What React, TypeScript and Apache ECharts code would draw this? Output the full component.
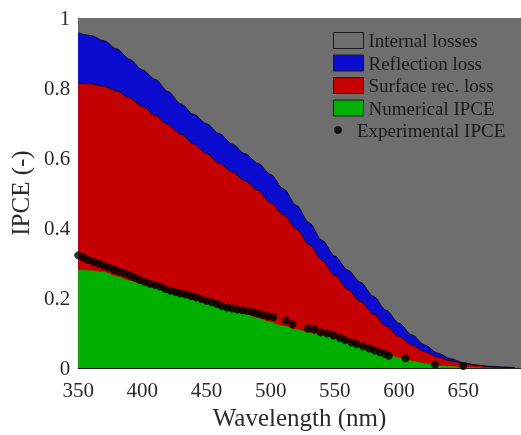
import React, { useEffect, useRef } from "react";
import * as echarts from "echarts";

// Wavelength grid (nm) for the simulated curves
const wavelengths = [
  350, 360, 370, 380, 390, 400, 410, 420, 430, 440, 450, 460, 470, 480, 490,
  500, 510, 520, 530, 540, 550, 560, 570, 580, 590, 600, 610, 620, 630, 640,
  650, 660, 670, 680, 690,
];

// Upper edge of the reflection-loss band (= 1 - internal losses)
const reflectionTop = [
  0.958, 0.95, 0.935, 0.912, 0.882, 0.852, 0.825, 0.79, 0.755, 0.725, 0.698,
  0.67, 0.64, 0.612, 0.585, 0.553, 0.512, 0.465, 0.415, 0.365, 0.32, 0.28,
  0.245, 0.205, 0.165, 0.128, 0.095, 0.066, 0.043, 0.027, 0.016, 0.009, 0.005,
  0.003, 0.002,
];

// Upper edge of the surface-recombination band
const surfaceTop = [
  0.814, 0.812, 0.805, 0.792, 0.772, 0.748, 0.722, 0.695, 0.668, 0.64, 0.613,
  0.585, 0.56, 0.535, 0.508, 0.472, 0.438, 0.398, 0.353, 0.308, 0.265, 0.225,
  0.19, 0.155, 0.12, 0.09, 0.066, 0.047, 0.032, 0.021, 0.013, 0.008, 0.004,
  0.002, 0.001,
];

// Numerical IPCE
const numericalIPCE = [
  0.281, 0.279, 0.275, 0.262, 0.25, 0.24, 0.23, 0.219, 0.207, 0.196, 0.186,
  0.176, 0.166, 0.155, 0.143, 0.132, 0.121, 0.111, 0.102, 0.095, 0.085, 0.073,
  0.061, 0.05, 0.04, 0.03, 0.021, 0.014, 0.008, 0.005, 0.003, 0.002, 0.001,
  0.001, 0.0,
];

// Internal losses fill everything up to unity
const internalRange = [350, 695];
const internalTop = [1, 1];

// Measured IPCE
const expWavelengths = [
  350, 354, 358, 362, 366, 370, 374, 378, 382, 386, 390, 394, 398, 402, 406,
  410, 414, 418, 422, 426, 430, 434, 438, 442, 446, 450, 454, 458, 462, 466,
  470, 474, 478, 482, 486, 490, 494, 498, 502, 512, 517, 529, 534, 539, 544,
  549, 554, 558, 563, 567, 572, 577, 581, 585, 589, 592, 605, 628, 650,
];
const expIPCE = [
  0.322, 0.316, 0.309, 0.303, 0.298, 0.292, 0.287, 0.281, 0.276, 0.271, 0.265,
  0.259, 0.252, 0.246, 0.241, 0.237, 0.233, 0.226, 0.221, 0.217, 0.213, 0.21,
  0.206, 0.202, 0.197, 0.192, 0.188, 0.183, 0.177, 0.173, 0.17, 0.167, 0.165,
  0.163, 0.16, 0.156, 0.152, 0.148, 0.146, 0.136, 0.125, 0.113, 0.11, 0.102,
  0.099, 0.093, 0.086, 0.08, 0.073, 0.068, 0.062, 0.056, 0.05, 0.045, 0.04,
  0.035, 0.028, 0.01, 0.006,
];

const xTicks = { min: 350, max: 695, interval: 50 };
const yTicks = { min: 0, max: 1, interval: 0.2 };

const FONT = "Liberation Serif";
const TEXT = "#2a2a2a";

const pairs = (xs: number[], ys: number[]) => xs.map((x, i) => [x, ys[i]]);

const areaSeries = (name: string, color: string, data: number[][], edge: boolean) => ({
  name,
  type: "line",
  data,
  symbol: "none",
  smooth: 0.3,
  smoothMonotone: "x",
  itemStyle: { color },
  lineStyle: edge ? { color: "rgba(0,0,0,0.75)", width: 1 } : { width: 0 },
  areaStyle: { color, opacity: 1, origin: "start" },
});

export default function App() {
  const ref = useRef<HTMLDivElement>(null);

  useEffect(() => {
    if (!ref.current) return;
    const chart = echarts.init(ref.current, undefined, { renderer: "svg" });
    chart.setOption({
      animation: false,
      grid: { left: 73, right: 0, top: 18, bottom: 57 },
      legend: [
        {
          data: ["Internal losses", "Reflection loss", "Surface rec. loss", "Numerical IPCE"],
          orient: "vertical",
          left: 328,
          top: 26,
          icon: "rect",
          itemWidth: 30,
          itemHeight: 16,
          itemGap: 3.5,
          itemStyle: { borderColor: "#1a1a1a", borderWidth: 1 },
          textStyle: { fontFamily: FONT, fontSize: 19, color: "#1a1a1a" },
          selectedMode: false,
        },
        {
          data: ["Experimental IPCE"],
          orient: "vertical",
          left: 329,
          top: 115.5,
          icon: "circle",
          itemWidth: 28,
          itemHeight: 8,
          textStyle: { fontFamily: FONT, fontSize: 19, color: "#1a1a1a" },
          selectedMode: false,
        },
      ],
      xAxis: [
        {
          type: "value",
          ...xTicks,
          name: "Wavelength (nm)",
          nameLocation: "middle",
          nameGap: 33,
          nameTextStyle: { fontFamily: FONT, fontSize: 25, color: TEXT },
          axisLine: { show: true, lineStyle: { color: "#222", width: 1 } },
          axisTick: { show: false },
          splitLine: { show: false },
          axisLabel: {
            showMaxLabel: false,
            margin: 11,
            fontFamily: FONT,
            fontSize: 21,
            color: TEXT,
          },
        },
        {
          type: "value",
          ...xTicks,
          position: "top",
          axisLine: { show: true, lineStyle: { color: "#cfcfcf", width: 1 } },
          axisTick: { show: true, inside: true, length: 4, lineStyle: { color: "#9a9a9a" } },
          axisLabel: { show: false },
          splitLine: { show: false },
        },
      ],
      yAxis: {
        type: "value",
        ...yTicks,
        name: "IPCE (-)",
        nameLocation: "middle",
        nameGap: 40,
        nameTextStyle: { fontFamily: FONT, fontSize: 25, color: TEXT },
        axisLine: { show: true, lineStyle: { color: "#222", width: 1 } },
        axisTick: { show: false },
        splitLine: { show: false },
        axisLabel: { margin: 8, fontFamily: FONT, fontSize: 21, color: TEXT },
      },
      series: [
        areaSeries("Internal losses", "#6e6e6e", pairs(internalRange, internalTop), false),
        areaSeries("Reflection loss", "#0c0cd0", pairs(wavelengths, reflectionTop), true),
        areaSeries("Surface rec. loss", "#c40000", pairs(wavelengths, surfaceTop), true),
        areaSeries("Numerical IPCE", "#00b000", pairs(wavelengths, numericalIPCE), false),
        {
          name: "Experimental IPCE",
          type: "scatter",
          data: pairs(expWavelengths, expIPCE),
          symbol: "circle",
          symbolSize: 8,
          itemStyle: { color: "#000000" },
          z: 4,
        },
      ],
    });
    return () => chart.dispose();
  }, []);

  return (
    <div
      ref={ref}
      style={{ position: "fixed", left: 0, top: 0, width: 521, height: 435 }}
    />
  );
}
